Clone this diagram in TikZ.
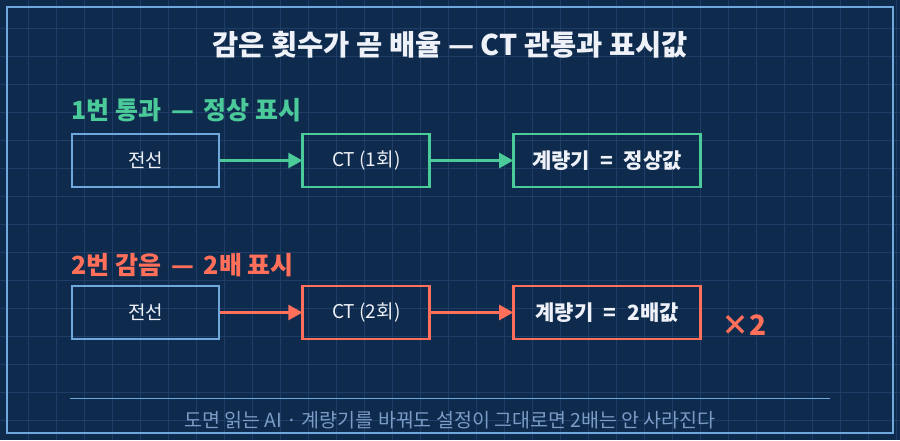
\documentclass[tikz,border=0pt]{standalone}
\usepackage{fontspec}
\setmainfont{Noto Sans CJK KR}
\usetikzlibrary{positioning, arrows.meta}
\definecolor{navy}{HTML}{0E2A4C}
\definecolor{gridblue}{HTML}{1E3E68}
\definecolor{frameblue}{HTML}{6FA8DC}
\definecolor{passgreen}{HTML}{4CCB9A}
\definecolor{coral}{HTML}{FF6F5A}
\definecolor{inkwhite}{HTML}{EEF2F8}
\definecolor{footgray}{HTML}{7B9CC6}
\newcommand{\eqgap}{\hspace{0.5em}=\hspace{0.5em}}

\begin{document}
\begin{tikzpicture}[
  x=1pt, y=-1pt,
  node distance=81pt,
  box/.style={draw, line width=2.8pt, minimum height=53pt, inner sep=0pt,
    text=inkwhite, font=\fontsize{19}{22}\selectfont},
  wirebox/.style={box, draw=frameblue, minimum width=147pt},
  ctbox/.style={box, minimum width=127pt},
  meterbox/.style={box, minimum width=187pt, font=\fontsize{21}{24}\selectfont\bfseries},
  feed/.style={-{Triangle[length=14pt, width=15pt]}, line width=2.4pt, shorten >=-1pt},
  heading/.style={font=\fontsize{25}{29}\selectfont\bfseries, anchor=west, inner sep=0pt}
]
  \useasboundingbox (0,0) rectangle (900,440);
  \fill[navy] (0,0) rectangle (900,440);

  % blueprint grid
  \foreach \gx in {28,56,...,896} \draw[gridblue, line width=1pt] (\gx,0) -- (\gx,440);
  \foreach \gy in {28,56,...,436} \draw[gridblue, line width=1pt] (0,\gy) -- (900,\gy);
  \draw[frameblue, line width=2pt] (7,7) rectangle (893,433);

  \node[text=inkwhite, font=\fontsize{28.5}{32}\selectfont\bfseries] (title) at (450,45)
    {감은 횟수가 곧 배율 — CT 관통과 표시값};

  % single pass
  \node[heading, text=passgreen] (pass) at (71,110) {1번 통과 \,—\, 정상 표시};
  \node[wirebox] (wire1) at (145.5,160.5) {전선};
  \node[ctbox, draw=passgreen, right=of wire1] (ct1) {CT (1회)};
  \node[meterbox, draw=passgreen, right=of ct1] (meter1) {계량기\eqgap 정상값};
  \draw[feed, passgreen] (wire1) -- (ct1);
  \draw[feed, passgreen] (ct1) -- (meter1);

  % two turns
  \node[heading, text=coral] (wound) at (71,265) {2번 감음 \,—\, 2배 표시};
  \node[wirebox] (wire2) at (145.5,312.5) {전선};
  \node[ctbox, draw=coral, right=of wire2] (ct2) {CT (2회)};
  \node[meterbox, draw=coral, right=of ct2] (meter2) {계량기\eqgap 2배값};
  \draw[feed, coral] (wire2) -- (ct2);
  \draw[feed, coral] (ct2) -- (meter2);
  \node[text=coral, font=\fontsize{28}{32}\selectfont\bfseries] (times) at (744,325) {×2};

  % footer
  \coordinate (footL) at (70,398);
  \coordinate (footR) at (830,398);
  \draw[frameblue, line width=1pt] (footL) -- (footR);
  \node[text=footgray, font=\fontsize{19.5}{22}\selectfont] (note) at (450,420)
    {도면 읽는 AI · 계량기를 바꿔도 설정이 그대로면 2배는 안 사라진다};
\end{tikzpicture}
\end{document}
